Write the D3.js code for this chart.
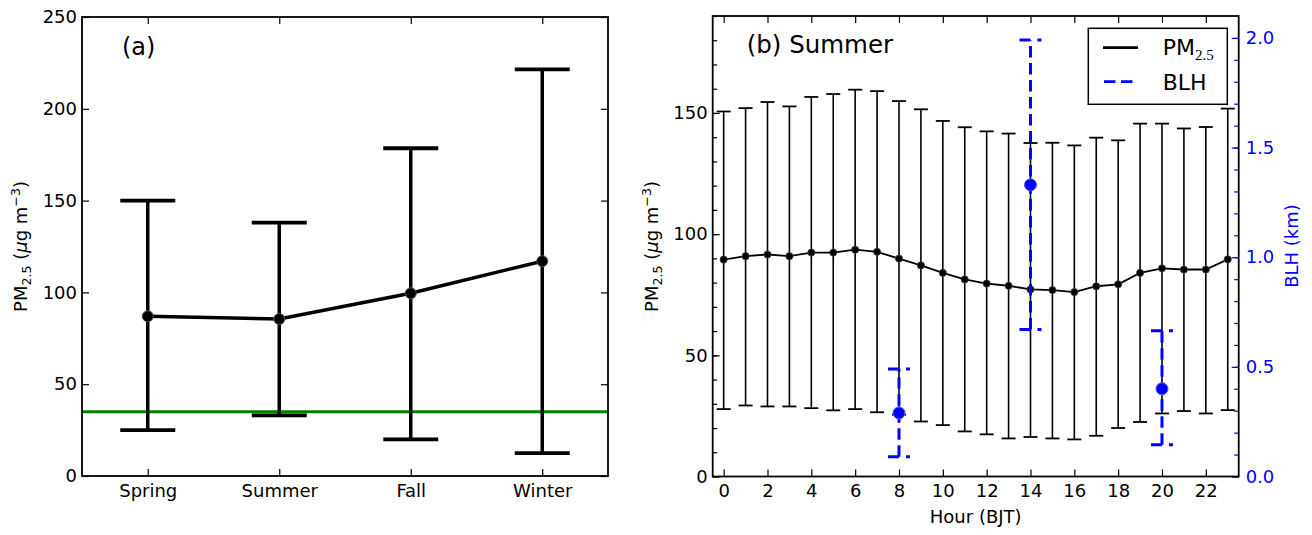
<!DOCTYPE html>
<html>
<head>
<meta charset="utf-8">
<script src="https://cdn.jsdelivr.net/npm/d3@7"></script>
<style>
  html, body { margin: 0; padding: 0; background: #fff; }
  svg { display: block; font-family: "DejaVu Sans", sans-serif; }
</style>
</head>
<body>
<svg id="chart" width="1312" height="535"></svg>
<script>
// ---------- Data ----------
const seasons = ["Spring", "Summer", "Fall", "Winter"];
const seasonMean = [87, 85.5, 99.5, 117];
const seasonUpper = [150, 138, 178.5, 221.5];
const seasonLower = [25, 33, 20, 12.5];
const standardLine = 35;

const hours = [0,1,2,3,4,5,6,7,8,9,10,11,12,13,14,15,16,17,18,19,20,21,22,23];
const hourMean = [89.5, 90.9, 91.6, 90.9, 92.4, 92.4, 93.6, 92.7, 89.9, 87.1, 84.0, 81.3,
                  79.6, 78.7, 77.2, 76.9, 76.1, 78.5, 79.3, 84.0, 85.9, 85.4, 85.4, 89.6];
const hourUpper = [150.6, 152.0, 154.5, 152.7, 156.6, 157.8, 159.6, 159.0, 154.9, 151.5, 146.7, 144.1,
                   142.4, 141.5, 137.6, 137.7, 136.6, 139.8, 138.7, 145.6, 145.6, 143.6, 144.2, 151.8];
const hourLower = [27.8, 29.3, 28.9, 28.9, 28.2, 27.3, 27.8, 26.5, 25.5, 22.7, 21.2, 18.6,
                   17.4, 15.7, 16.3, 15.7, 15.3, 16.8, 20.0, 22.5, 26.0, 27.0, 26.0, 27.4];

const blhHours = [8, 14, 20];
const blhMean = [0.29, 1.33, 0.40];
const blhUpper = [0.49, 1.99, 0.665];
const blhLower = [0.09, 0.67, 0.145];

const ticksA = [0, 50, 100, 150, 200, 250];
const ticksBLeft = [0, 50, 100, 150];
const ticksBRight = [0.0, 0.5, 1.0, 1.5, 2.0];
const ticksHour = [0, 2, 4, 6, 8, 10, 12, 14, 16, 18, 20, 22];

// ---------- Setup ----------
const svg = d3.select("#chart");
const FS = 18;
const BLUE = "#0000ff";

function subSupLabel(sel, fontSize) {
  // PM_{2.5} (μg m^{-3})
  const sub = fontSize * 0.7, dsub = fontSize * 0.22, dsup = fontSize * 0.4;
  sel.append("tspan").text("PM");
  sel.append("tspan").attr("font-size", sub).attr("dy", dsub).text("2.5");
  sel.append("tspan").attr("dy", -dsub).text(" (");
  sel.append("tspan").attr("font-style", "italic").text("μ");
  sel.append("tspan").text("g m");
  sel.append("tspan").attr("font-size", sub).attr("dy", -dsup).text("−3");
  sel.append("tspan").attr("dy", dsup).text(")");
}

// ================= Panel (a) =================
const ax = d3.scaleLinear().domain([0.5, 4.5]).range([82, 608]);
const ay = d3.scaleLinear().domain([0, 250]).range([476, 17]);
const ga = svg.append("g");

// green standard line
ga.append("line")
  .attr("x1", ax(0.5)).attr("x2", ax(4.5))
  .attr("y1", ay(standardLine)).attr("y2", ay(standardLine))
  .attr("stroke", "#008000").attr("stroke-width", 3);

// error bars
const capA = 27.5;
seasons.forEach((s, i) => {
  const x = ax(i + 1);
  ga.append("line").attr("x1", x).attr("x2", x)
    .attr("y1", ay(seasonLower[i])).attr("y2", ay(seasonUpper[i]))
    .attr("stroke", "#000").attr("stroke-width", 3.5);
  [seasonLower[i], seasonUpper[i]].forEach(v => {
    ga.append("line").attr("x1", x - capA).attr("x2", x + capA)
      .attr("y1", ay(v)).attr("y2", ay(v))
      .attr("stroke", "#000").attr("stroke-width", 3.8);
  });
});
// mean line
ga.append("path")
  .datum(seasonMean)
  .attr("d", d3.line().x((d, i) => ax(i + 1)).y(d => ay(d)))
  .attr("fill", "none").attr("stroke", "#000").attr("stroke-width", 3.5);
ga.selectAll("circle.m").data(seasonMean).join("circle")
  .attr("cx", (d, i) => ax(i + 1)).attr("cy", d => ay(d)).attr("r", 5.5)
  .attr("fill", "#000").attr("stroke", "#555").attr("stroke-width", 1);

// axes
ga.append("g").attr("transform", `translate(${ax.range()[0]},0)`)
  .call(d3.axisLeft(ay).tickValues(ticksA).tickSize(-7).tickPadding(5).tickSizeOuter(0));
ga.append("g").attr("transform", `translate(${ax.range()[1]},0)`)
  .call(d3.axisRight(ay).tickValues(ticksA).tickSize(-7).tickFormat("").tickSizeOuter(0));
ga.append("g").attr("transform", `translate(0,${ay.range()[0]})`)
  .call(d3.axisBottom(ax).tickValues([1, 2, 3, 4]).tickFormat(d => seasons[d - 1])
        .tickSize(-7).tickPadding(8).tickSizeOuter(0));
ga.append("g").attr("transform", `translate(0,${ay.range()[1]})`)
  .call(d3.axisTop(ax).tickValues([1, 2, 3, 4]).tickFormat("").tickSize(-7).tickSizeOuter(0));

// frame
ga.append("rect").attr("x", 82).attr("y", 17).attr("width", 526).attr("height", 459)
  .attr("fill", "none").attr("stroke", "#000").attr("stroke-width", 1.8);

ga.append("text").attr("x", 122).attr("y", 55).attr("font-size", 24).text("(a)");

const la = ga.append("text").attr("transform", "translate(27,246.5) rotate(-90)")
  .attr("text-anchor", "middle").attr("font-size", FS);
subSupLabel(la, FS);

// ================= Panel (b) =================
const bx = d3.scaleLinear().domain([-0.5, 23.5]).range([712.7, 1238.7]);
const by = d3.scaleLinear().domain([0, 190]).range([476.5, 16]);
const byR = d3.scaleLinear().domain([0, 2.1]).range([476.5, 16]);
const gb = svg.append("g");

// PM2.5 error bars
const capB = 7;
hours.forEach((h, i) => {
  const x = bx(h);
  gb.append("line").attr("x1", x).attr("x2", x)
    .attr("y1", by(hourLower[i])).attr("y2", by(hourUpper[i]))
    .attr("stroke", "#000").attr("stroke-width", 1.6);
  [hourLower[i], hourUpper[i]].forEach(v => {
    gb.append("line").attr("x1", x - capB).attr("x2", x + capB)
      .attr("y1", by(v)).attr("y2", by(v))
      .attr("stroke", "#000").attr("stroke-width", 1.8);
  });
});
gb.append("path").datum(hourMean)
  .attr("d", d3.line().x((d, i) => bx(hours[i])).y(d => by(d)))
  .attr("fill", "none").attr("stroke", "#000").attr("stroke-width", 1.8);
gb.selectAll("circle.h").data(hourMean).join("circle")
  .attr("cx", (d, i) => bx(hours[i])).attr("cy", d => by(d)).attr("r", 3.6)
  .attr("fill", "#000").attr("stroke", "#444").attr("stroke-width", 0.8);

// BLH error bars (dashed)
const capBlh = 11;
blhHours.forEach((h, i) => {
  const x = bx(h);
  gb.append("line").attr("x1", x).attr("x2", x)
    .attr("y1", byR(blhLower[i])).attr("y2", byR(blhUpper[i]))
    .attr("stroke", BLUE).attr("stroke-width", 3).attr("stroke-dasharray", "11.5,5.5");
  [blhLower[i], blhUpper[i]].forEach(v => {
    gb.append("line").attr("x1", x - capBlh).attr("x2", x + capBlh)
      .attr("y1", byR(v)).attr("y2", byR(v))
      .attr("stroke", BLUE).attr("stroke-width", 3).attr("stroke-dasharray", "11,7");
  });
  gb.append("circle").attr("cx", x).attr("cy", byR(blhMean[i])).attr("r", 6)
    .attr("fill", BLUE).attr("stroke", "#5555ff").attr("stroke-width", 1);
});

// axes
gb.append("g").attr("transform", `translate(${bx.range()[0]},0)`)
  .call(d3.axisLeft(by).tickValues(d3.range(0, 191, 10)).tickSize(-4.5).tickFormat("").tickSizeOuter(0));
gb.append("g").attr("transform", `translate(${bx.range()[0]},0)`)
  .call(d3.axisLeft(by).tickValues(ticksBLeft).tickSize(-7).tickPadding(5).tickSizeOuter(0));
const rMinor = gb.append("g").attr("transform", `translate(${bx.range()[1]},0)`)
  .call(d3.axisRight(byR).tickValues(d3.range(0, 21).map(d => d / 10)).tickSize(-4.5).tickFormat("").tickSizeOuter(0));
const rMajor = gb.append("g").attr("transform", `translate(${bx.range()[1]},0)`)
  .call(d3.axisRight(byR).tickValues(ticksBRight).tickFormat(d3.format(".1f"))
        .tickSize(-7).tickPadding(7).tickSizeOuter(0));
[rMinor, rMajor].forEach(g => {
  g.selectAll(".tick line").attr("stroke", BLUE);
  g.selectAll(".tick text").attr("fill", BLUE);
});
gb.append("g").attr("transform", `translate(0,${by.range()[0]})`)
  .call(d3.axisBottom(bx).tickValues(ticksHour).tickSize(-7).tickPadding(8).tickSizeOuter(0));
gb.append("g").attr("transform", `translate(0,${by.range()[1]})`)
  .call(d3.axisTop(bx).tickValues(ticksHour).tickFormat("").tickSize(-7).tickSizeOuter(0));

gb.append("rect").attr("x", 712.7).attr("y", 16).attr("width", 526).attr("height", 460.5)
  .attr("fill", "none").attr("stroke", "#000").attr("stroke-width", 1.8);

gb.append("text").attr("x", 746.7).attr("y", 53.3).attr("font-size", 24.5).text("(b) Summer");

const lb = gb.append("text").attr("transform", "translate(658,246.5) rotate(-90)")
  .attr("text-anchor", "middle").attr("font-size", FS);
subSupLabel(lb, FS);

gb.append("text").attr("transform", "translate(1298,246) rotate(-90)")
  .attr("text-anchor", "middle").attr("font-size", FS).attr("fill", BLUE).text("BLH (km)");

gb.append("text").attr("x", (bx.range()[0] + bx.range()[1]) / 2).attr("y", 523)
  .attr("text-anchor", "middle").attr("font-size", FS).text("Hour (BJT)");

// legend
const lg = gb.append("g");
lg.append("rect").attr("x", 1088.3).attr("y", 28.3).attr("width", 139).attr("height", 76)
  .attr("fill", "#fff").attr("stroke", "#000").attr("stroke-width", 1.5);
lg.append("line").attr("x1", 1103).attr("x2", 1138).attr("y1", 47.7).attr("y2", 47.7)
  .attr("stroke", "#000").attr("stroke-width", 2.8);
lg.append("line").attr("x1", 1104).attr("x2", 1138).attr("y1", 81.7).attr("y2", 81.7)
  .attr("stroke", BLUE).attr("stroke-width", 2.8).attr("stroke-dasharray", "11.5,5.5");
const lt1 = lg.append("text").attr("x", 1162.7).attr("y", 55).attr("font-size", 22);
lt1.append("tspan").text("PM");
lt1.append("tspan").attr("font-size", 15).attr("dy", 5)
  .attr("font-family", "'Liberation Serif', 'DejaVu Serif', serif").text("2.5");
lg.append("text").attr("x", 1162.7).attr("y", 90).attr("font-size", 22).text("BLH");

// axis text styling
svg.selectAll(".tick text").attr("font-size", FS).attr("font-family", "DejaVu Sans, sans-serif");
svg.selectAll(".domain").remove();
svg.selectAll(".tick line").filter(function() { return !d3.select(this).attr("stroke") || d3.select(this).attr("stroke") === "currentColor"; })
  .attr("stroke", "#000").attr("stroke-width", 1.2);
svg.selectAll(".tick line").attr("stroke-width", 1.2);
</script>
</body>
</html>
